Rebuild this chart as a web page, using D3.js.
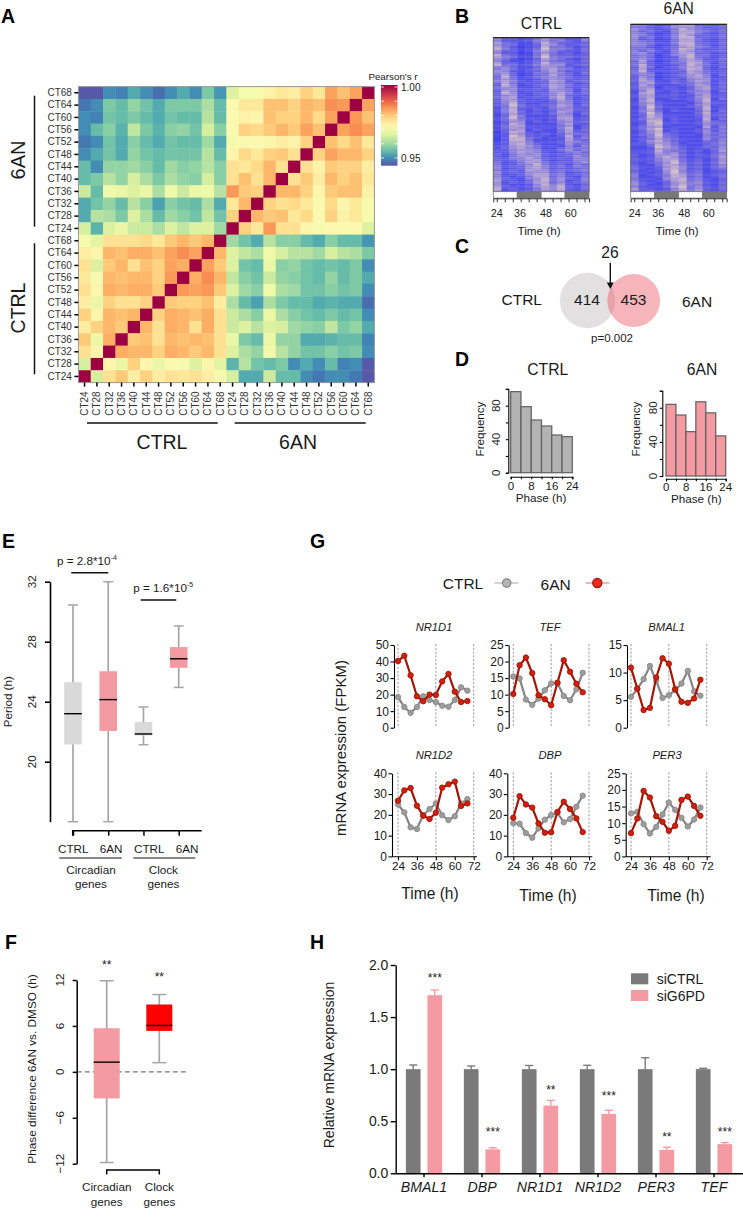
<!DOCTYPE html>
<html><head><meta charset="utf-8">
<script src="https://cdnjs.cloudflare.com/ajax/libs/d3/7.8.5/d3.min.js"></script>
<style>
html,body{margin:0;padding:0;background:#fff}
svg{display:block}
text{font-family:"Liberation Sans",Arial,sans-serif;fill:#1a1a1a}
</style></head><body><div id="c"></div>
<script>
// ---------- Panel A data: Pearson correlations ----------
const ctTimes=["CT24","CT28","CT32","CT36","CT40","CT44","CT48","CT52","CT56","CT60","CT64","CT68"];
// rows top to bottom = CT68..CT24, columns = CT24..CT68
const corrAnAn=[
[.966,.970,.970,.974,.976,.975,.979,.976,.984,.981,.984,1],
[.972,.976,.976,.981,.981,.979,.982,.981,.986,.985,1,.984],
[.972,.974,.973,.981,.979,.979,.982,.978,.984,1,.985,.981],
[.972,.979,.978,.980,.982,.980,.984,.981,1,.984,.986,.984],
[.970,.972,.972,.973,.975,.974,.979,1,.981,.978,.981,.976],
[.973,.978,.976,.979,.980,.977,1,.979,.984,.982,.982,.979],
[.977,.976,.978,.982,.977,1,.977,.974,.980,.979,.979,.975],
[.977,.981,.977,.982,1,.977,.980,.975,.982,.979,.981,.976],
[.985,.980,.979,1,.982,.982,.979,.973,.980,.981,.981,.974],
[.976,.982,1,.979,.977,.978,.976,.972,.978,.973,.976,.970],
[.979,1,.982,.980,.981,.976,.978,.972,.979,.974,.976,.970],
[1,.979,.976,.985,.977,.977,.973,.970,.972,.972,.972,.966]];
const corrCtrlCtrl=[
[.970,.967,.977,.977,.977,.978,.976,.980,.982,.980,.982,1],
[.975,.973,.982,.981,.983,.983,.981,.984,.986,.984,1,.982],
[.977,.966,.980,.982,.977,.981,.979,.984,.983,1,.984,.980],
[.976,.971,.982,.981,.982,.982,.979,.985,1,.983,.986,.982],
[.977,.973,.983,.982,.983,.983,.980,1,.985,.984,.985,.980],
[.975,.968,.979,.977,.977,.979,1,.980,.979,.979,.981,.975],
[.979,.973,.982,.981,.982,1,.979,.983,.982,.981,.983,.977],
[.975,.979,.982,.980,1,.982,.977,.983,.982,.977,.983,.977],
[.980,.968,.983,1,.980,.981,.977,.982,.981,.982,.981,.977],
[.977,.973,1,.983,.982,.982,.979,.983,.982,.980,.982,.977],
[.965,1,.973,.968,.979,.973,.968,.972,.971,.966,.973,.967],
[1,.965,.977,.980,.975,.979,.975,.977,.976,.977,.975,.970]];
// rows = 6AN CT68..CT24, columns = CTRL CT24..CT68
const corrAnCtrl=[
[.945,.945,.950,.949,.953,.950,.947,.950,.953,.950,.957,.951],
[.948,.950,.957,.955,.959,.956,.953,.957,.957,.957,.961,.955],
[.950,.949,.956,.955,.957,.955,.953,.956,.955,.955,.962,.955],
[.950,.955,.958,.954,.963,.957,.954,.958,.959,.956,.965,.958],
[.948,.950,.956,.953,.958,.955,.953,.956,.955,.955,.960,.953],
[.950,.953,.956,.953,.959,.956,.955,.956,.956,.956,.962,.955],
[.955,.950,.959,.959,.960,.958,.955,.960,.958,.959,.962,.958],
[.955,.957,.962,.959,.965,.961,.957,.961,.959,.958,.965,.958],
[.964,.955,.969,.968,.966,.968,.961,.969,.964,.968,.969,.962],
[.953,.956,.959,.955,.962,.958,.952,.958,.956,.955,.961,.953],
[.953,.962,.961,.957,.966,.961,.955,.960,.958,.956,.963,.956],
[.965,.954,.966,.968,.964,.964,.961,.966,.963,.966,.966,.960]];
const corrLegendTicks=[1,.99,.98,.97,.96,.95];
// ---------- Panel B data: expression level per gene band (0 low..9 high), estimated ----------
const heatHours=[24,28,32,36,40,44,48,52,56,60,64,68];
const heatLabels=[24,36,48,60];
const heatCtrl=["633124754226","522235645325","743114853323","644123764234","742013844313","853124955424","633125753224","522014642313","843114843323","754225954434","642013754213","531124643324","733124855323","844235766234","553113664312","464124675423","652123574223","563014465314","473013474312","384124565423","464112465323","575213376234","374122365312","285013476423","465112376323","356223265414","275122266413","386113357524","356212357322","467123268413","266311247412","357222136523","258311236513","349422347624","147322146522","258213235633","258412137623","147323246514","138511126612","249422237723","247522126723","136613235634","138611115722","247722224613","147622225813","236713114724","038721214733","127632323644","129732213824","038843122735","028841112743","137752223654","127853112634","236764221525","136754113544","225665224635","225765212453","314656323344","214666212364","325575323255","323567312255","412476423346","412458423143","523367534254","512367523234","423276634345","623256634123","512367745234","521247735214","632156846325","722136846125","613247735234","621125857213","732236768324","823124768324","712235657213"];
const heatAn=["553125773324","442236664233","643124864323","534215775434","542014774213","653125863324","634125883324","523014774213","543114773213","654225884324","553013784313","442124675424","444124873223","535215764334","563114773312","454025684423","453012684313","564123575224","372013576323","463124487414","483112486423","374023577314","372112487312","483223376423","464012376423","355123467514","264012367512","375123256623","376113257613","267224346524","275111247613","366022136724","267122136723","158213245614","178112136612","267223225723","267222126723","158113235814","168211125822","257322214733","258311125722","149422234813","148312114823","257413223714","149511114823","238622223734","138622113723","247713222814","238812112733","127923223644","137821112634","246712221725","247922112534","136813223625","136832112644","245943221535","125843111544","234754222635","136853211435","225764122346","224864211345","113975322436","112765312246","223854423137","223756312135","312667423246","212686312247","323577423136","322578423136","213469534247","311477523135","422368634246","421378623134","312269534123","421269634123","512358745234","511258734124","422167845213","521247845213","632136756324","631136855213","522247946324","732125846324","623236757213"];
// ---------- Panel D ----------
const phaseBins=[0,4,8,12,16,20];
const freqCtrl=[96.7,78.8,62.9,55.7,45,43];
const freqAn=[84,71.5,52,87,74,47];
// ---------- Panel E ----------
const periodGroups=["CTRL","6AN","CTRL","6AN"];
const periodLow=[16,16,21.13,24.95];
const periodQ1=[21.15,22.05,21.75,26.26];
const periodMed=[23.2,24.14,21.85,26.86];
const periodQ3=[25.3,26.03,22.65,27.64];
const periodHigh=[30.45,32,23.65,29.05];
// ---------- Panel F ----------
const phaseGroups=["Circadian","Clock"];
const phaseLow=[-11.85,1.2];
const phaseQ1=[-3.47,5.35];
const phaseMed=[1.27,6.06];
const phaseQ3=[5.7,8.8];
const phaseHigh=[11.9,10.1];
// ---------- Panel G ----------
const timeHours=[24,28,32,36,40,44,48,52,56,60,64,68];
const nr1d1Ctrl=[18.5,12.5,9,12.5,19,16.7,15.5,13.3,12.7,16.7,24.4,22.4];
const nr1d1An=[40.3,43.5,31.7,19,16,20,19.8,28,32.5,21.8,15.5,16.1];
const tefCtrl=[15.5,14.9,8.5,6.9,8.8,11.3,13.4,13.4,9.6,8.3,11.6,16.6];
const tefAn=[10.2,18.9,21.2,16.5,9.8,8.6,6.8,13.6,20.4,16.9,13.3,10.7];
const bmal1Ctrl=[5.6,7,8.8,11.2,8.5,5.4,5.9,6.8,8,10.3,6.6,5.8];
const bmal1An=[10.9,7.1,3.2,3.6,9.1,12.6,11.6,7,4.7,4.5,5.3,8.7];
const nr1d2Ctrl=[25,21.2,14,13.2,19.9,22.8,25.5,19.8,17.5,19.3,25.5,27.6];
const nr1d2An=[26.8,31.8,32.9,24.4,19.6,18,21,33.1,34.7,36,24.3,25.5];
const dbpCtrl=[16,15.7,11.2,9,13.5,17.7,19.9,21,16.4,18,23.9,29.2];
const dbpAn=[18.6,29,25,23.5,15.9,11.4,11.6,21.4,26.3,22.8,18.3,11.7];
const per3Ctrl=[12.95,13.4,9.7,6.9,8.9,12.6,16.2,14,11.6,9,11.1,14.7];
const per3An=[7,11.4,19.7,17.7,12.1,10.4,7.7,9.2,17,18,15.2,12.2];
// ---------- Panel H ----------
const qpcrGenes=["BMAL1","DBP","NR1D1","NR1D2","PER3","TEF"];
const siCtrl=[1,1,1,1,1,1];
const siCtrlTop=[1.04,1.03,1.035,1.037,1.11,1.008];
const siG6pd=[1.71,.23,.65,.57,.225,.28];
const siG6pdTop=[1.76,.245,.70,.605,.25,.295];
const qpcrStars=["***","***","**","***","**","***"];
const qpcrStarLevel=[1.88,.40,.80,.745,.35,.40];

const W=743,H=1209;
const PINK="#f49aa2",GREY="#7a7a7a",LG="#d9d9d9",WH="#a6a6a6";
const svg=d3.select("#c").append("svg").attr("width",W).attr("height",H);

function txt(x,y,s,o={}){
  const t=svg.append("text").attr("font-size",o.size||11.7).attr("text-anchor",o.anchor||"middle")
    .attr("dominant-baseline",o.base||"central")
    .attr("transform",`translate(${x},${y})`+(o.rot?` rotate(${o.rot})`:"")).text(s);
  if(o.weight)t.attr("font-weight",o.weight);
  if(o.italic)t.attr("font-style","italic");
  if(o.fill)t.style("fill",o.fill);
  return t;
}
function line(x1,y1,x2,y2,c="#111",w=1.5,dash){
  const l=svg.append("line").attr("x1",x1).attr("y1",y1).attr("x2",x2).attr("y2",y2)
    .attr("stroke",c).attr("stroke-width",w);
  if(dash)l.attr("stroke-dasharray",dash);
  return l;
}
function styleAxis(g,w,fs){
  g.selectAll("path.domain").attr("stroke","#000").attr("stroke-width",w);
  g.selectAll(".tick line").attr("stroke","#000").attr("stroke-width",w);
  g.selectAll(".tick text").attr("font-size",fs).attr("font-family",null).style("fill","#1a1a1a");
}
// panel letters
[["A",1,16],["B",455,16],["C",455,246],["D",455,359],["E",2,541],["G",310,541],["F",5,942],["H",310,942]]
  .forEach(d=>txt(d[1],d[2],d[0],{size:19.5,weight:"bold",anchor:"start",fill:"#000"}));

// ============ A: correlation heatmap ============
(function(){
  const keysX=[...ctTimes.map(t=>"C"+t),...ctTimes.map(t=>"A"+t)];
  const keysY=[...ctTimes.map(t=>"A"+t).reverse(),...ctTimes.map(t=>"C"+t).reverse()];
  const x=d3.scaleBand().domain(keysX).range([78.4,374.4]);
  const y=d3.scaleBand().domain(keysY).range([86.6,382.6]);
  const color=d3.scaleSequential(t=>d3.interpolateSpectral(1-t)).domain([.944,1]);
  const cells=[];
  keysY.forEach((ky,r)=>{
    const an=r<12, rr=an?r:r-12;
    keysX.forEach((kx,c)=>{
      const ctrlCol=c<12, cc=ctrlCol?c:c-12;
      let v;
      if(an) v=ctrlCol?corrAnCtrl[rr][cc]:corrAnAn[rr][cc];
      else v=ctrlCol?corrCtrlCtrl[rr][cc]:corrAnCtrl[11-cc][11-rr];
      cells.push({kx,ky,v});
    });
  });
  svg.append("g").selectAll("rect").data(cells).join("rect")
    .attr("x",d=>x(d.kx)).attr("y",d=>y(d.ky)).attr("width",x.bandwidth()+.4).attr("height",y.bandwidth()+.4)
    .attr("fill",d=>color(d.v));
  svg.append("rect").attr("x",78.4).attr("y",86.6).attr("width",296).attr("height",296)
    .attr("fill","none").attr("stroke","#999").attr("stroke-width",1);
  const ax=svg.append("g").attr("transform","translate(78.4,0)")
    .call(d3.axisLeft(y).tickSize(4).tickPadding(2.5).tickFormat(d=>d.slice(1)));
  ax.select(".domain").remove();
  ax.selectAll(".tick line").attr("stroke","#000").attr("stroke-width",1.5);
  ax.selectAll(".tick text").attr("font-size",10).attr("font-family",null).style("fill","#333");
  const bx=svg.append("g").attr("transform","translate(0,382.6)")
    .call(d3.axisBottom(x).tickSize(4).tickFormat(d=>d.slice(1)));
  bx.select(".domain").remove();
  bx.selectAll(".tick line").attr("stroke","#000").attr("stroke-width",1.5);
  bx.selectAll(".tick text").attr("font-size",10).attr("font-family",null).style("fill","#333")
    .attr("transform","translate(0,21) rotate(-90)").attr("y",0).attr("dy",null).attr("x",0).attr("text-anchor","middle").attr("dominant-baseline","central");
  // legend
  txt(393,76,"Pearson's r",{size:9.8});
  const lg=d3.scaleLinear().domain([1,.95]).range([87,158]);
  const grad=svg.append("defs").append("linearGradient").attr("id","cb").attr("x1",0).attr("x2",0).attr("y1",0).attr("y2",1);
  const lo=lg.invert(165.7),hi=lg.invert(85);
  d3.range(0,11).forEach(i=>{const t=i/10;grad.append("stop").attr("offset",t).attr("stop-color",color(hi+(lo-hi)*t));});
  svg.append("rect").attr("x",381).attr("y",85).attr("width",16.5).attr("height",80.7).attr("fill","url(#cb)");
  corrLegendTicks.forEach(v=>{
    line(381,lg(v),384,lg(v),"#fff",.8);line(394.5,lg(v),397.5,lg(v),"#fff",.8);
  });
  txt(401,lg(1),"1.00",{size:10,anchor:"start"});
  txt(401,lg(.95),"0.95",{size:10,anchor:"start"});
  // group annotations
  line(34.5,95.7,34.5,226.7);line(34.5,243.3,34.5,374.3);
  txt(18,160,"6AN",{size:20,rot:-90});
  txt(18,308,"CTRL",{size:19.5,rot:-90});
  line(87,423,217.7,423);line(234.7,423,365.7,423);
  txt(162,441.5,"CTRL",{size:19.5});
  txt(298,441.5,"6AN",{size:19.5});
})();

// ============ B: gene heatmaps ============
const heatColor=d3.scaleLinear().domain([0,3,6,9]).range(["#4242ee","#6a64e2","#9a8cd8","#d2becc"]);
function geneHeat(rows,x0,x1,y0,y1,title,titleY,labelXs,timeX){
  const x=d3.scaleBand().domain(heatHours).range([x0,x1]);
  const y=d3.scaleBand().domain(d3.range(rows.length)).range([y0,y1]);
  const g=svg.append("g");
  rows.forEach((row,r)=>{
    g.selectAll(null).data(row.split("").map(Number)).join("rect")
      .attr("x",(d,i)=>x(heatHours[i])).attr("y",y(r)).attr("width",x.bandwidth()+.3).attr("height",y.bandwidth()+.3)
      .attr("fill",d=>heatColor(d));
  });
  svg.append("rect").attr("x",x0).attr("y",y0).attr("width",x1-x0).attr("height",y1-y0).attr("fill","none").attr("stroke","#666").attr("stroke-width",1);
  line(x0,y0,x1,y0,"#111",1);
  const bw=(x1-x0)/4;
  d3.range(4).forEach(i=>{
    svg.append("rect").attr("x",x0+i*bw).attr("y",y1).attr("width",bw).attr("height",6.4)
      .attr("fill",i%2?"#777":"#fff").attr("stroke","#777").attr("stroke-width",.8);
  });
  const ax=svg.append("g").attr("transform",`translate(0,${y1+6.6})`)
    .call(d3.axisBottom(x).tickSize(4).tickFormat(d=>""));
  ax.select(".domain").attr("stroke","#333").attr("stroke-width",1);
  ax.selectAll(".tick line").attr("stroke","#333").attr("stroke-width",1);
  heatLabels.forEach((h,i)=>txt(labelXs[i],213,h,{size:10.8}));
  txt(timeX,230,"Time (h)",{size:11.7});
  txt((x0+x1)/2,titleY,title,{size:15.7});
}
geneHeat(heatCtrl,493.3,589,37.7,191.7,"CTRL",23.5,[496.7,520,546,570.7],539);
geneHeat(heatAn,630.7,726.7,24.3,191.7,"6AN",8.5,[634.7,658.3,684.3,708.7],677);

// ============ C: venn ============
(function(){
  svg.append("circle").attr("cx",587.5).attr("cy",300.5).attr("r",27.7).attr("fill","#b9b5b5").attr("fill-opacity",.42);
  svg.append("circle").attr("cx",633.7).attr("cy",300.5).attr("r",26.4).attr("fill","#ea5a68").attr("fill-opacity",.45);
  txt(610,252,"26",{size:15.6});
  line(610.3,262.7,610.3,283,"#111",1.4);
  svg.append("path").attr("d",d3.line()([[606.8,282.5],[613.8,282.5],[610.3,289]])).attr("fill","#111");
  txt(587,299,"414",{size:15.5});
  txt(633.5,299,"453",{size:15.5});
  txt(521.7,299.5,"CTRL",{size:15.5});
  txt(697,301.5,"6AN",{size:15.5});
  txt(612,338,"p=0.002",{size:11.5});
})();

// ============ D: histograms ============
function hist(vals,fill,xA,yA,yTop,y0,xAxisY,x0,x1,o){
  const y=d3.scaleLinear().domain([0,100]).range([y0,yTop]);
  const x=d3.scaleLinear().domain([0,24]).range([x0,x1]);
  svg.append("g").selectAll("rect").data(vals).join("rect")
    .attr("x",(d,i)=>x(phaseBins[i])).attr("width",x(4)-x(0))
    .attr("y",d=>y(d)).attr("height",d=>y0-y(d))
    .attr("fill",fill).attr("stroke","#5f5f5f").attr("stroke-width",1.2);
  const ay=svg.append("g").attr("transform",`translate(${xA},0)`)
    .call(d3.axisLeft(y).tickValues([0,20,40,60,80,100]).tickSize(2.5).tickFormat(d=>""));
  styleAxis(ay,1.1,11);
  [0,40,80].forEach(v=>txt(o.tickX,y(v),v,{size:11.5,rot:-90}));
  const ax=svg.append("g").attr("transform",`translate(0,${xAxisY})`)
    .call(d3.axisBottom(x).tickValues(d3.range(0,25,4)).tickSize(2.5).tickFormat(d=>""));
  styleAxis(ax,1.1,11);
  [0,8,16,24].forEach(v=>txt(x(v)+(v==24?0:.2),o.labY,v,{size:11.5}));
  txt(o.freqX,429,"Frequency",{size:11.6,rot:-90});
  txt(o.phaseX,o.phaseY,"Phase (h)",{size:11.7});
  txt(o.titleX,369,o.title,{size:15.7});
}
hist(freqCtrl,"#b3b3b3",508.3,0,388.9,472.7,476.7,510.7,572.3,{tickX:495.7,labY:486,freqX:479,phaseX:541,phaseY:497.7,titleX:547.7,title:"CTRL"});
hist(freqAn,PINK,662.3,0,390.7,476,478.7,666,725.7,{tickX:653,labY:487.3,freqX:635,phaseX:696.3,phaseY:498.3,titleX:702,title:"6AN"});

// ============ box helper ============
function boxes(x,y,low,q1,med,q3,high,fills,bw,cap){
  const g=svg.append("g");
  low.forEach((_,i)=>{
    const cx=x(i);
    g.append("line").attr("x1",cx).attr("x2",cx).attr("y1",y(high[i])).attr("y2",y(low[i])).attr("stroke",WH).attr("stroke-width",1.7);
    [low[i],high[i]].forEach(v=>g.append("line").attr("x1",cx-cap/2).attr("x2",cx+cap/2).attr("y1",y(v)).attr("y2",y(v)).attr("stroke",WH).attr("stroke-width",1.5));
    g.append("rect").attr("x",cx-bw/2).attr("width",bw).attr("y",y(q3[i])).attr("height",y(q1[i])-y(q3[i])).attr("fill",fills[i]);
    g.append("line").attr("x1",cx-bw/2).attr("x2",cx+bw/2).attr("y1",y(med[i])).attr("y2",y(med[i])).attr("stroke","#000").attr("stroke-width",1.4);
  });
}
function stars(x,yc,s,size=12){ txt(x,yc+size*.36,s,{size,base:"alphabetic"}); }

// ============ E ============
(function(){
  const y=d3.scaleLinear().domain([16,32]).range([821.7,581.7]);
  const x=d3.scaleLinear().domain([0,3]).range([73,178.7]);
  boxes(x,y,periodLow,periodQ1,periodMed,periodQ3,periodHigh,[LG,PINK,LG,PINK],17.6,10);
  const ay=svg.append("g").attr("transform","translate(50,0)")
    .call(d3.axisLeft(y).tickValues([20,24,28,32]).tickSize(5).tickSizeOuter(0).tickFormat(d=>""));
  styleAxis(ay,1.6,12);
  [20,24,28,32].forEach(v=>txt(31,y(v),v,{size:11.7,rot:-90}));
  txt(7.5,701.7,"Period (h)",{size:11.6,rot:-90});
  const ax=svg.append("g").attr("transform","translate(0,830.7)")
    .call(d3.axisBottom(x).tickValues([0,1,2,3]).tickSize(5).tickFormat(d=>""));
  ax.select(".domain").attr("d","M72.7,5V0H201.7");
  styleAxis(ax,1.5,12);
  const labX=[73.3,111,149.3,187];
  periodGroups.forEach((g,i)=>txt(labX[i],848.3,g,{size:11.7}));
  line(59.3,858,121.7,858,"#111",1.2);line(133.3,858,195.3,858,"#111",1.2);
  txt(91,869.3,"Circadian",{size:11.7});txt(91,883.5,"genes",{size:11.7});
  txt(163.3,869.3,"Clock",{size:11.7});txt(163.3,883.5,"genes",{size:11.7});
  const p1=txt(57,560.7,"p = 2.8*10",{size:11.7,anchor:"start"});
  p1.append("tspan").attr("font-size",7).attr("dy",-4).text("-4");
  const p2=txt(133.3,587.7,"p = 1.6*10",{size:11.7,anchor:"start"});
  p2.append("tspan").attr("font-size",7).attr("dy",-4).text("-5");
  line(71.3,572.7,108.3,572.7);line(140.7,600,176.3,600);
})();

// ============ F ============
(function(){
  const y=d3.scaleLinear().domain([-12,12]).range([1163.7,980]);
  const x=d3.scalePoint().domain(phaseGroups).range([106.7,159.3]);
  line(76.7,y(0),186,y(0),"#777",1.2,"5,3");
  boxes(i=>x(phaseGroups[i]),y,phaseLow,phaseQ1,phaseMed,phaseQ3,phaseHigh,[PINK,"#fe0000"],26,14);
  const ay=svg.append("g").attr("transform","translate(76.7,0)")
    .call(d3.axisLeft(y).tickValues([-12,-6,0,6,12]).tickSize(4).tickSizeOuter(0).tickFormat(d=>""));
  styleAxis(ay,1.5,12);
  [-12,-6,0,6,12].forEach(v=>txt(59.3,y(v),d3.format("d")(v).replace("-","\u2212"),{size:11.7,rot:-90}));
  txt(31.7,1069,"Phase difference 6AN vs. DMSO (h)",{size:11.8,rot:-90});
  const b=d3.path();b.moveTo(x("Circadian"),1174.5);b.lineTo(x("Circadian"),1170);b.lineTo(x("Clock"),1170);b.lineTo(x("Clock"),1174.5);
  svg.append("path").attr("d",b.toString()).attr("fill","none").attr("stroke","#000").attr("stroke-width",1.5);
  stars(x("Circadian"),965,"**");stars(x("Clock"),977,"**");
  phaseGroups.forEach(g=>{txt(x(g),1186.7,g,{size:11.7});txt(x(g),1201,"genes",{size:11.7});});
})();

// ============ G ============
function smallPlot(o){
  const x=d3.scaleLinear().domain([24,72]).range([o.x24,o.x24+75.7]);
  const y=d3.scaleLinear().domain([0,o.max]).range([o.yb,o.yt]);
  [24,48,72].forEach(v=>line(x(v),o.yt-1,x(v),o.yb,"#9a9a9a",1,"2.2,1.6"));
  const ay=svg.append("g").attr("transform",`translate(${o.axX},0)`)
    .call(d3.axisLeft(y).tickValues(d3.range(0,o.max+1,o.step)).tickSize(3.5).tickSizeOuter(0).tickPadding(1.5));
  styleAxis(ay,1.1,12);
  if(o.xAxis){
    const ax=svg.append("g").attr("transform",`translate(0,${o.yb+.4})`)
      .call(d3.axisBottom(x).tickValues([24,36,48,60,72]).tickSize(3.5).tickSizeOuter(0).tickPadding(1.5));
    ax.select(".domain").attr("d",`M${o.axX},0H${o.axX+85}`);
    styleAxis(ax,1.1,11.8);
  }
  const ln=d3.line().x((d,i)=>x(timeHours[i])).y(d=>y(d));
  [[o.ctrl,"#858585","#9c9c9c","#8a8a8a"],[o.an,"#a51405","#cf1f0f","#a51405"]].forEach(s=>{
    svg.append("path").attr("d",ln(s[0])).attr("fill","none").attr("stroke",s[1]).attr("stroke-width",2.2);
    svg.append("g").selectAll("circle").data(s[0]).join("circle")
      .attr("cx",(d,i)=>x(timeHours[i])).attr("cy",d=>y(d)).attr("r",2.7)
      .attr("fill",s[2]).attr("stroke",s[3]).attr("stroke-width",.9);
  });
  txt(o.titleX,o.titleY,o.title,{size:11.2,italic:true});
}
const rowA={yt:645,yb:727.7,titleY:626.7},rowB={yt:773.3,yb:856.4,titleY:755,xAxis:true};
smallPlot({...rowA,title:"NR1D1",titleX:434,x24:398,axX:394,max:50,step:10,ctrl:nr1d1Ctrl,an:nr1d1An});
smallPlot({...rowA,title:"TEF",titleX:550,x24:513.3,axX:508.7,max:25,step:5,ctrl:tefCtrl,an:tefAn});
smallPlot({...rowA,title:"BMAL1",titleX:666.7,x24:631,axX:627,max:15,step:5,ctrl:bmal1Ctrl,an:bmal1An});
smallPlot({...rowB,title:"NR1D2",titleX:434,x24:398,axX:392,max:40,step:10,ctrl:nr1d2Ctrl,an:nr1d2An});
smallPlot({...rowB,title:"DBP",titleX:550,x24:513.3,axX:507.3,max:40,step:10,ctrl:dbpCtrl,an:dbpAn});
smallPlot({...rowB,title:"PER3",titleX:667,x24:631,axX:625.7,max:25,step:5,ctrl:per3Ctrl,an:per3An});
txt(430,893.3,"Time (h)",{size:15.6});txt(548,895.7,"Time (h)",{size:15.6});txt(676,895.7,"Time (h)",{size:15.6});
txt(340,748,"mRNA expression (FPKM)",{size:15,rot:-90});
txt(463,583.3,"CTRL",{size:15.5});
txt(555.7,584.3,"6AN",{size:15.5});
line(494.3,583,518.3,583,"#b5b5b5",1.2);
svg.append("circle").attr("cx",506.7).attr("cy",583).attr("r",4.2).attr("fill","#b3b3b3").attr("stroke","#888").attr("stroke-width",1.2);
line(585.7,583,609.3,583,"#d98a84",1.2);
svg.append("circle").attr("cx",597.3).attr("cy",583).attr("r",4.6).attr("fill","#e8291c").attr("stroke","#a0140a").attr("stroke-width",1.2);

// ============ H ============
(function(){
  const y=d3.scaleLinear().domain([0,2]).range([1173.3,965]);
  const x=d3.scaleBand().domain(qpcrGenes).range([395,743]);
  const off=10.8,bw=14.7;
  const draw=(vals,tops,fill,sign)=>{
    const g=svg.append("g");
    g.selectAll("rect").data(vals).join("rect")
      .attr("x",(d,i)=>x(qpcrGenes[i])+x.bandwidth()/2+sign*off-bw/2).attr("width",bw)
      .attr("y",d=>y(d)).attr("height",d=>y(0)-y(d)).attr("fill",fill);
    tops.forEach((t,i)=>{
      const cx=x(qpcrGenes[i])+x.bandwidth()/2+sign*off;
      g.append("line").attr("x1",cx).attr("x2",cx).attr("y1",y(vals[i])).attr("y2",y(t)).attr("stroke",fill).attr("stroke-width",1.4);
      g.append("line").attr("x1",cx-4).attr("x2",cx+4).attr("y1",y(t)).attr("y2",y(t)).attr("stroke",fill).attr("stroke-width",1.4);
    });
  };
  draw(siCtrl,siCtrlTop,GREY,-1);
  draw(siG6pd,siG6pdTop,PINK,1);
  const ay=svg.append("g").attr("transform","translate(395.7,0)")
    .call(d3.axisLeft(y).tickValues([0,.5,1,1.5,2]).tickFormat(d3.format(".1f")).tickSize(5).tickSizeOuter(0).tickPadding(2.5));
  styleAxis(ay,1.4,13.9);
  const ax=svg.append("g").attr("transform","translate(0,1173.3)")
    .call(d3.axisBottom(x).tickSize(4).tickSizeOuter(0).tickPadding(4.5));
  styleAxis(ax,1.4,14.2);
  ax.selectAll(".tick text").attr("font-style","italic");
  qpcrStars.forEach((s,i)=>stars(x(qpcrGenes[i])+x.bandwidth()/2+off,y(qpcrStarLevel[i]),s));
  txt(329,1065,"Relative mRNA expression",{size:14,rot:-90});
  svg.append("rect").attr("x",631).attr("y",973.3).attr("width",17.3).attr("height",11).attr("fill",GREY);
  svg.append("rect").attr("x",631).attr("y",990).attr("width",17.3).attr("height",11).attr("fill",PINK);
  txt(656.7,978.5,"siCTRL",{size:14,anchor:"start"});
  txt(656.7,995.7,"siG6PD",{size:14,anchor:"start"});
})();
</script></body></html>
